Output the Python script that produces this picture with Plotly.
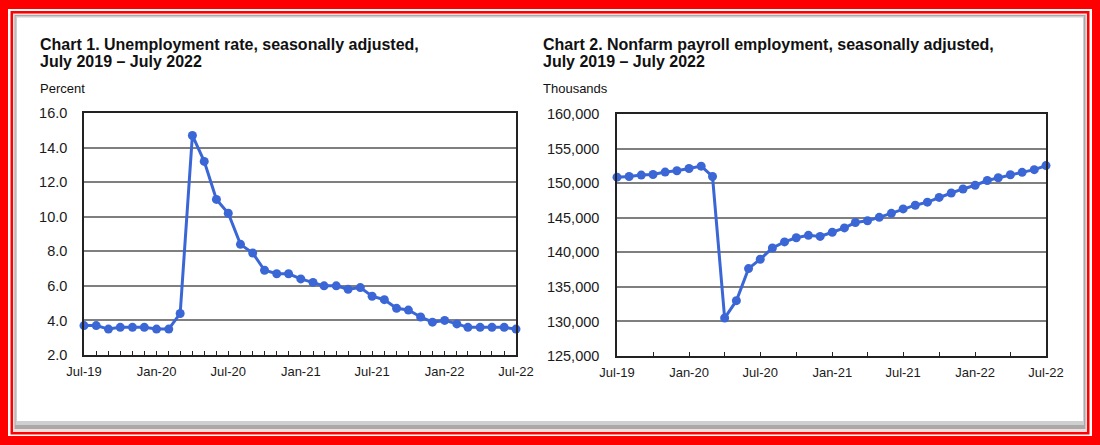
import pandas as pd
import plotly.graph_objects as go

W, H = 1100, 445

months = pd.date_range("2019-07-01", periods=37, freq="MS")

unemployment_rate = [3.7, 3.7, 3.5, 3.6, 3.6, 3.6,
                     3.5, 3.5, 4.4, 14.7, 13.2, 11.0, 10.2, 8.4, 7.9, 6.9, 6.7, 6.7,
                     6.4, 6.2, 6.0, 6.0, 5.8, 5.9, 5.4, 5.2, 4.7, 4.6, 4.2, 3.9,
                     4.0, 3.8, 3.6, 3.6, 3.6, 3.6, 3.5]

payroll_thousands = [150870, 150960, 151160, 151250, 151600, 151790,
                     152120, 152460, 150960, 130490, 133000, 137640, 139000, 140620, 141500, 142100, 142450, 142300,
                     142900, 143530, 144300, 144560, 145050, 145630, 146270, 146810, 147250, 147940, 148570, 149160,
                     149700, 150380, 150780, 151220, 151560, 151950, 152540]

chart1_title = ["Chart 1. Unemployment rate, seasonally adjusted,", "July 2019 – July 2022"]
chart2_title = ["Chart 2. Nonfarm payroll employment, seasonally adjusted,", "July 2019 – July 2022"]
chart1_unit = "Percent"
chart2_unit = "Thousands"

BLUE = "#3b66d6"
FONT = "Liberation Sans, Arial, sans-serif"


def px_x(x):
    return x / W


def px_y(y):
    return 1 - y / H


fig = go.Figure()

fig.add_trace(go.Scatter(x=months, y=unemployment_rate, mode="lines+markers",
                         line=dict(color=BLUE, width=3), marker=dict(color=BLUE, size=9),
                         cliponaxis=False, xaxis="x", yaxis="y", showlegend=False))
fig.add_trace(go.Scatter(x=months, y=payroll_thousands, mode="lines+markers",
                         line=dict(color=BLUE, width=3), marker=dict(color=BLUE, size=9),
                         cliponaxis=False, xaxis="x2", yaxis="y2", showlegend=False))

xcommon = dict(type="date", range=[months[0], months[-1]], dtick="M6", tick0="2019-07-01",
               tickformat="%b-%y", ticks="inside", ticklen=4, tickcolor="#222", tickwidth=1,
               showline=True, linecolor="#222", linewidth=1.5, mirror=True,
               showgrid=False, zeroline=False, automargin=False,
               tickfont=dict(family=FONT, size=13, color="#1a1a1a"))
ycommon = dict(ticks="", showline=True, linecolor="#222", linewidth=1.5, mirror=True,
               showgrid=True, gridcolor="#7f7f7f", gridwidth=1.5, zeroline=False, automargin=False,
               tickfont=dict(family=FONT, size=14.5, color="#1a1a1a"))

fig.update_layout(
    width=W, height=H, autosize=False,
    margin=dict(l=0, r=0, t=0, b=0, pad=0, autoexpand=False),
    paper_bgcolor="white", plot_bgcolor="white", showlegend=False,
    xaxis=dict(domain=[px_x(84), px_x(516)], anchor="y",
               minor=dict(dtick="M1", ticks="inside", ticklen=4, tickcolor="#222", showgrid=False),
               ticklabelstandoff=4, **xcommon),
    yaxis=dict(domain=[px_y(355), px_y(113)], anchor="x", range=[2, 16], dtick=2, tickformat=".1f",
               ticklabelstandoff=12, **ycommon),
    xaxis2=dict(domain=[px_x(617), px_x(1046)], anchor="y2",
                minor=dict(dtick="M3", ticks="inside", ticklen=4, tickcolor="#222", showgrid=False),
                ticklabelstandoff=4, **xcommon),
    yaxis2=dict(domain=[px_y(356), px_y(114)], anchor="x2", range=[125000, 160000], dtick=5000,
                tickformat=",", ticklabelstandoff=13, **ycommon),
)

# frame
rects = [
    (0, 0, 1100, 445, "#ff0000"),
    (8, 9, 1092, 436, "#ffffff"),
    (10.5, 11, 1089.5, 434.5, "#ff0000"),
    (13, 13.5, 1087, 432, "#f2dede"),
    (14.5, 15, 1085.5, 429, "#a9a9a9"),
    (15.5, 16, 1084, 425, "#cfcfcf"),
    (17, 17.5, 1083, 421, "#ffffff"),
]
shapes = []
for x0, y0, x1, y1, c in rects:
    shapes.append(dict(type="rect", xref="paper", yref="paper", x0=px_x(x0), x1=px_x(x1),
                       y0=px_y(y1), y1=px_y(y0), fillcolor=c, line=dict(width=0), layer="below"))
fig.update_layout(shapes=shapes)

annotations = []
for x0, title, unit in [(38, chart1_title, chart1_unit), (541, chart2_title, chart2_unit)]:
    for i, line in enumerate(title):
        annotations.append(dict(xref="paper", yref="paper", x=px_x(x0), y=px_y(44 + 18 * i),
                                xanchor="left", yanchor="middle", showarrow=False,
                                text="<b>" + line + "</b>",
                                font=dict(family=FONT, size=16, color="#111111")))
    annotations.append(dict(xref="paper", yref="paper", x=px_x(x0), y=px_y(89),
                            xanchor="left", yanchor="middle", showarrow=False, text=unit,
                            font=dict(family=FONT, size=13, color="#111111")))
fig.update_layout(annotations=annotations)

fig.write_html("out.html", config={"responsive": False, "displayModeBar": False},
               post_script="document.body.style.margin='0';document.body.style.overflow='hidden';")
